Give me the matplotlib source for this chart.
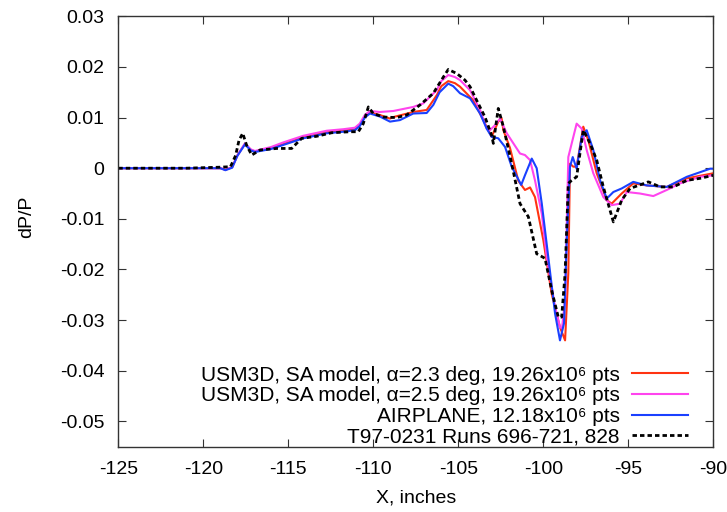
import matplotlib
matplotlib.use('agg')
from matplotlib import pyplot as plt

plt.rcParams['font.family'] = ['Liberation Sans', 'DejaVu Sans']
plt.rcParams['font.size'] = 14

# USM3D, SA model, alpha = 2.3 deg
x_a23 = [-125, -121, -119.0, -118.7, -118.3, -118.0, -117.55, -117.2, -116.96, -116.0,
         -115.29, -114.12, -112.74, -111.76, -111.08, -110.8, -110.5, -110.2, -109.61,
         -109.02, -108.82, -107.65, -106.86, -106.27, -106.0, -105.59, -105.2, -104.90,
         -104.12, -103.53, -103.04, -102.65, -102.45, -102.35, -101.96, -101.47, -101.08,
         -100.78, -100.49, -100.0, -99.51, -99.02, -98.72, -98.53, -98.43, -98.24, -98.04,
         -97.65, -97.35, -96.86, -96.27, -95.98, -95.39, -94.71, -93.92, -92.74, -91.56, -90.0]
y_a23 = [0.0, 0.0, 0.0, -0.0003, 0.0002, 0.0025, 0.0048, 0.0036, 0.0033, 0.0040,
         0.0048, 0.0061, 0.0071, 0.0074, 0.0077, 0.0085, 0.0102, 0.0110, 0.0105,
         0.0098, 0.0101, 0.0111, 0.0115, 0.0144, 0.0162, 0.0172, 0.0168, 0.0161,
         0.0134, 0.0095, 0.0062, 0.0092, 0.0098, 0.0075, 0.0040, -0.0025, -0.0043,
         -0.0038, -0.0057, -0.0142, -0.0248, -0.0314, -0.0340, -0.0208, 0.0009, 0.0003, 0.0003,
         0.0082, 0.0055, -0.0010, -0.0063, -0.0070, -0.0050, -0.0030, -0.0034, -0.0037, -0.0020,
         -0.0010]

# USM3D, SA model, alpha = 2.5 deg
x_a25 = [-125, -121, -119.0, -118.7, -118.3, -118.0, -117.55, -117.2, -116.96, -116.0,
         -115.29, -114.12, -112.74, -111.76, -111.08, -110.8, -110.5, -110.2, -109.61,
         -108.82, -107.65, -107.06, -106.27, -106.0, -105.59, -105.2, -104.90, -104.31,
         -103.72, -103.33, -103.14, -102.84, -102.55, -102.15, -101.76, -101.37, -101.08,
         -100.78, -100.49, -100.09, -99.80, -99.31, -99.02, -98.9, -98.72, -98.53, -98.33,
         -98.04, -97.74, -97.45, -97.06, -96.47, -95.98, -95.49, -95.09, -94.31, -93.53,
         -92.74, -91.96, -90.78, -90.0]
y_a25 = [0.0, 0.0, 0.0, -0.0003, 0.0002, 0.0025, 0.0049, 0.0037, 0.0034, 0.0042,
         0.0051, 0.0064, 0.0074, 0.0077, 0.0080, 0.0088, 0.0105, 0.0113, 0.0111,
         0.0113, 0.0121, 0.0128, 0.0154, 0.0172, 0.0184, 0.0180, 0.0174, 0.0154,
         0.0115, 0.0078, 0.0075, 0.0085, 0.0098, 0.0069, 0.0049, 0.0029, 0.0026,
         0.0016, -0.0024, -0.0090, -0.0175, -0.0274, -0.0314, -0.0316, -0.0260, 0.0022, 0.0049,
         0.0088, 0.0078, 0.0036, -0.0010, -0.0057, -0.0073, -0.0070, -0.0047, -0.0050, -0.0055,
         -0.0043, -0.0030, -0.0017, -0.0014]

# AIRPLANE
x_air = [-125, -121, -119.0, -118.7, -118.3, -118.0, -117.55, -117.2, -116.96, -116.0,
         -115.29, -114.12, -112.74, -111.76, -111.08, -110.8, -110.5, -110.2, -109.61,
         -109.02, -108.43, -107.65, -106.86, -106.47, -106.1, -105.59, -105.3, -104.90,
         -104.31, -103.72, -103.33, -103.04, -102.65, -102.25, -101.86, -101.3, -101.08,
         -100.68, -100.39, -100.09, -99.71, -99.31, -99.02, -98.78, -98.62, -98.43, -98.27,
         -98.04, -97.74, -97.45, -97.06, -96.66, -96.27, -95.88, -95.39, -94.71, -93.92,
         -92.74, -91.56, -90.19, -90.0]
y_air = [0.0, 0.0, 0.0, -0.0004, 0.0001, 0.0024, 0.0047, 0.0035, 0.0032, 0.0038,
         0.0046, 0.0059, 0.0069, 0.0072, 0.0075, 0.0083, 0.0100, 0.0108, 0.0102,
         0.0092, 0.0095, 0.0108, 0.0109, 0.0125, 0.0150, 0.0167, 0.0162, 0.0148,
         0.0138, 0.0108, 0.0078, 0.0062, 0.0059, 0.0042, 0.0003, -0.0033, -0.0014,
         0.0019, 0.0000, -0.0070, -0.0175, -0.0287, -0.0340, -0.0306, -0.0142, 0.0003, 0.0022,
         -0.0001, 0.0062, 0.0075, 0.0036, -0.0024, -0.0060, -0.0047, -0.0040, -0.0027, -0.0034,
         -0.0037, -0.0017, -0.0001, -0.0001]

# T97-0231 wind tunnel data
x_exp = [-125, -121, -119.0, -118.4, -118.1, -117.9, -117.68, -117.45, -117.15, -116.66,
         -115.68, -114.80, -114.51, -114.21, -113.33, -112.45, -111.37, -110.88, -110.59,
         -110.29, -110.0, -109.41, -108.62, -108.04, -107.25, -106.47, -105.88, -105.59,
         -105.09, -104.61, -104.31, -103.92, -103.43, -103.04, -102.94, -102.65, -102.35,
         -101.86, -101.37, -100.88, -100.39, -99.90, -99.51, -99.12, -98.92, -98.72, -98.53,
         -98.33, -98.04, -97.65, -97.25, -96.86, -96.47, -95.88, -95.39, -94.90, -93.82,
         -93.13, -92.35, -91.56, -90.78, -90.0]
y_exp = [0.0, 0.0, 0.0002, 0.0003, 0.0025, 0.0055, 0.0069, 0.0045, 0.0026, 0.0036,
         0.0039, 0.0039, 0.0049, 0.0059, 0.0063, 0.0070, 0.0072, 0.0072, 0.0088,
         0.0121, 0.0108, 0.0101, 0.0100, 0.0105, 0.0125, 0.0148, 0.0180, 0.0195,
         0.0187, 0.0174, 0.0161, 0.0134, 0.0101, 0.0065, 0.0049, 0.0118, 0.0082,
         0.0009, -0.0070, -0.0096, -0.0169, -0.0178, -0.0241, -0.0294, -0.0294, -0.0208, -0.0030,
         -0.0024, -0.0017, 0.0075, 0.0049, 0.0016, -0.0037, -0.0106, -0.0063, -0.0040, -0.0027,
         -0.0037, -0.0037, -0.0024, -0.0020, -0.0014]

labels = ['USM3D, SA model, \u03b1=2.3 deg, 19.26x10\u2076 pts',
          'USM3D, SA model, \u03b1=2.5 deg, 19.26x10\u2076 pts',
          'AIRPLANE, 12.18x10\u2076 pts',
          'T97-0231 Runs 696-721, 828']

fig = plt.figure(figsize=(7.27, 5.12), dpi=100)
ax = fig.add_axes([0.1627, 0.1275, 0.8185, 0.8407])

ax.plot(x_a23, y_a23, color='#ff3311', lw=1.5, label=labels[0])
ax.plot(x_a25, y_a25, color='#ff44ee', lw=1.5, label=labels[1])
ax.plot(x_air, y_air, color='#1a40ff', lw=1.5, label=labels[2])
ax.plot(x_exp, y_exp, color='black', lw=2.0, ls=(0, (1.6, 1.1)), label=labels[3])

ax.set_xlim(-125, -90)
ax.set_ylim(-0.055, 0.03)
ax.set_xticks(range(-125, -89, 5))
ax.set_yticks([0.03, 0.02, 0.01, 0, -0.01, -0.02, -0.03, -0.04, -0.05])
ax.set_yticklabels(['0.03', '0.02', '0.01', '0', '-0.01', '-0.02', '-0.03', '-0.04', '-0.05'])
ax.set_xticklabels([str(v) for v in range(-125, -89, 5)])
ax.tick_params(direction='in', length=6, width=0.8, top=True, right=True,
               labelsize=14, color='#333333')
ax.tick_params(axis='x', pad=10)
ax.tick_params(axis='y', pad=10)
for s in ax.spines.values():
    s.set_color('#333333')
    s.set_linewidth(1.0)

ax.set_xlabel('X, inches', fontsize=14)
ax.set_ylabel('dP/P', fontsize=14)
ax.xaxis.set_label_coords(0.5, -0.1)
ax.yaxis.set_label_coords(-0.14, 0.534)

ax.legend(loc='lower right', bbox_to_anchor=(0.958, 0.0), markerfirst=False, frameon=False,
          fontsize=15, handlelength=2.7, handletextpad=0.6, labelspacing=0.08,
          borderpad=0.0, borderaxespad=0.0)

fig.savefig('out.png', dpi=100)
